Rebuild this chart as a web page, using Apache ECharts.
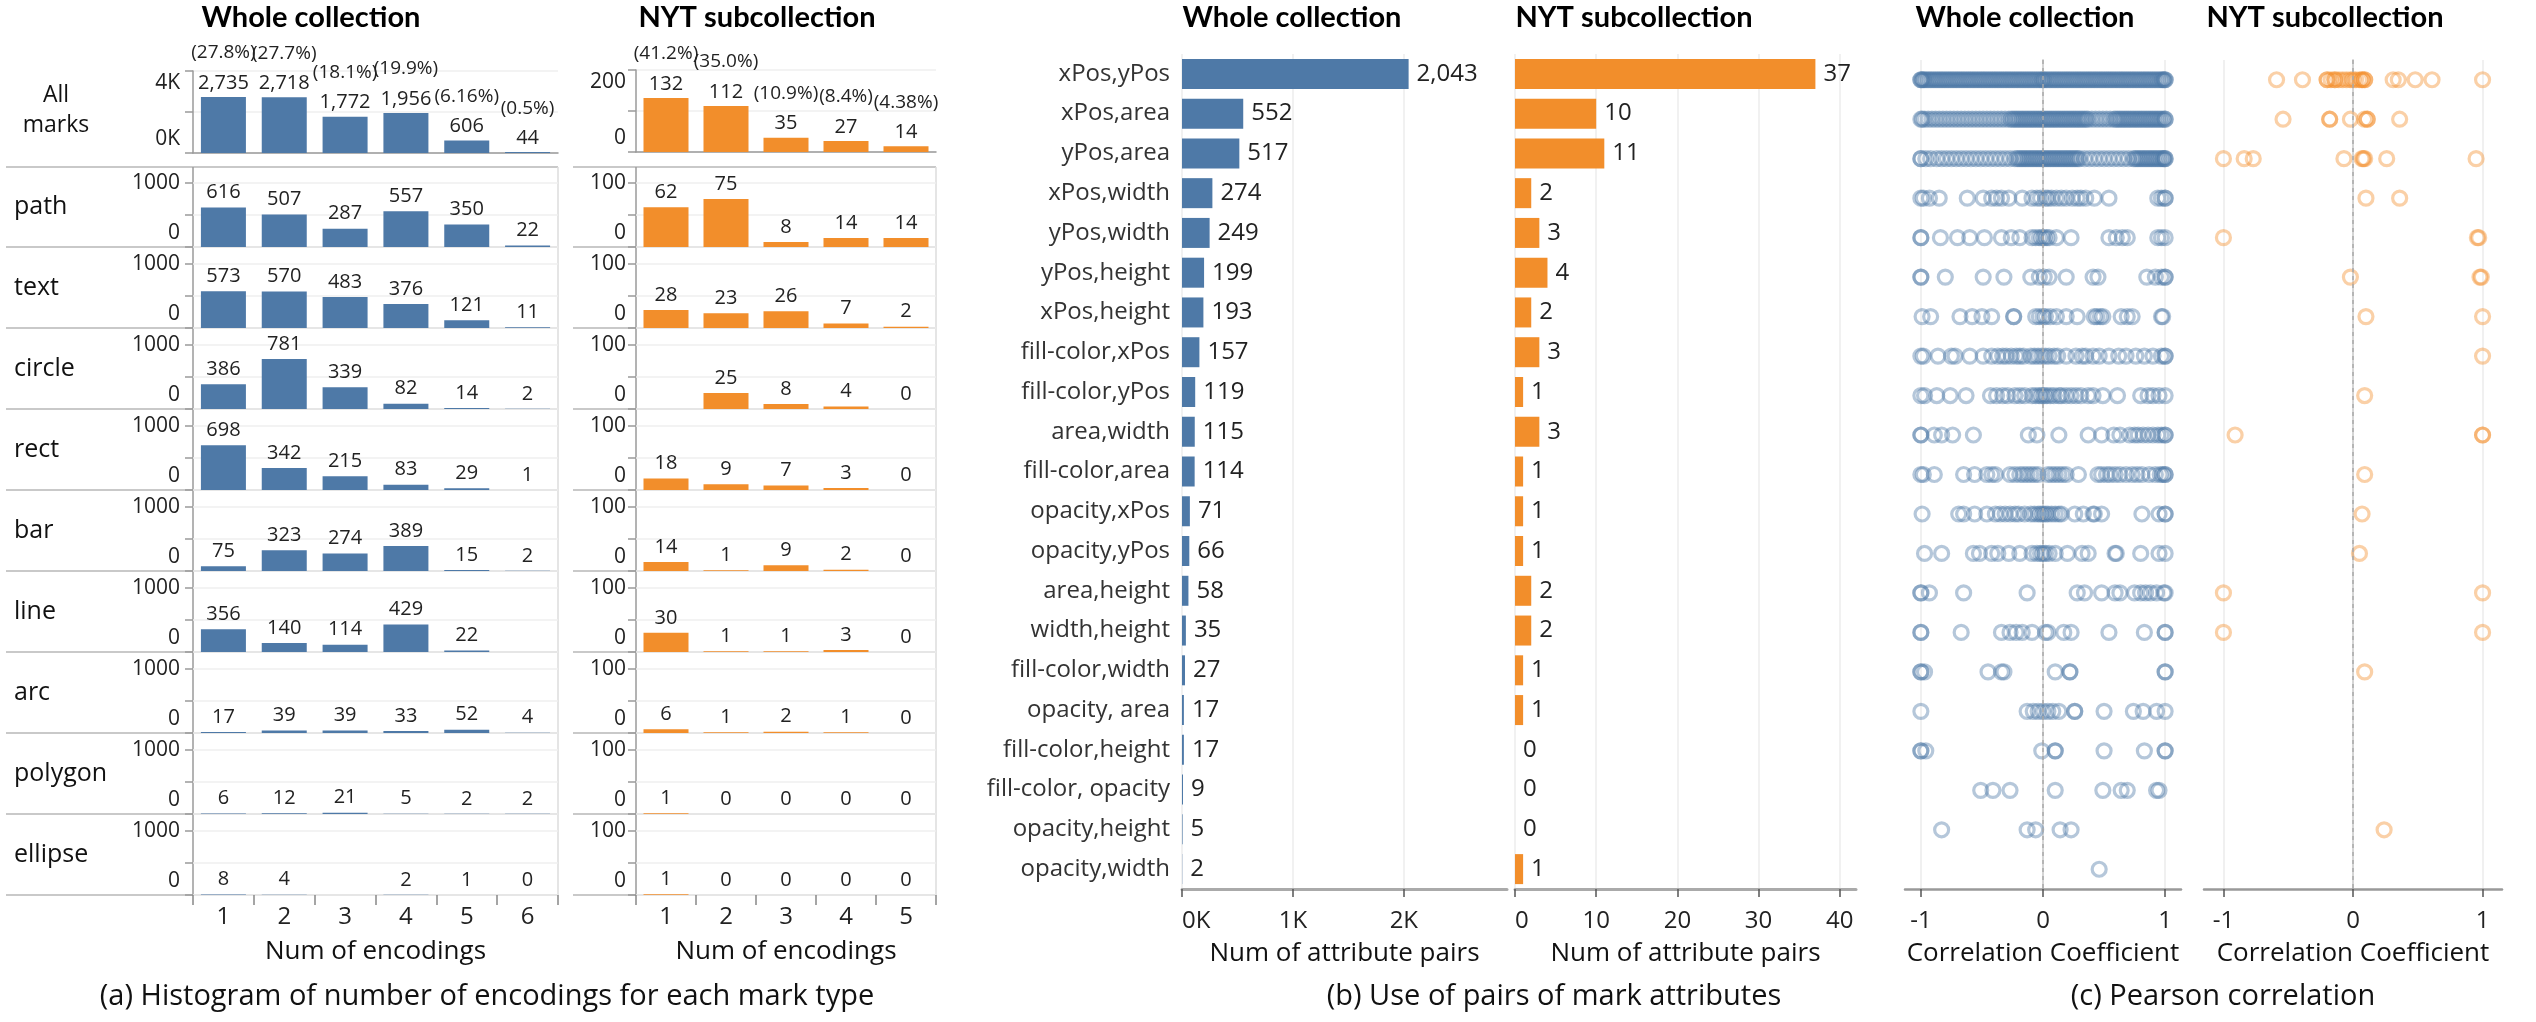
<!DOCTYPE html>
<html>
<head>
<meta charset="utf-8">
<title>Mark encodings</title>
<script src="https://cdn.jsdelivr.net/npm/echarts@6/dist/echarts.min.js"></script>
<style>
html, body { margin: 0; padding: 0; background: #fff; }
#chart { width: 2536px; height: 1022px; }
</style>
</head>
<body>
<div id="chart"></div>
<script>
// ---- data ----
const markTypes = ['path', 'text', 'circle', 'rect', 'bar', 'line', 'arc', 'polygon', 'ellipse'];
const encWhole = ['1', '2', '3', '4', '5', '6'];
const encNyt = ['1', '2', '3', '4', '5'];

const allWhole = [2735, 2718, 1772, 1956, 606, 44];
const allWholePct = ['27.8%', '27.7%', '18.1%', '19.9%', '6.16%', '0.5%'];
const allNyt = [132, 112, 35, 27, 14];
const allNytPct = ['41.2%', '35.0%', '10.9%', '8.4%', '4.38%'];

const wholePath = [616, 507, 287, 557, 350, 22];
const wholeText = [573, 570, 483, 376, 121, 11];
const wholeCircle = [386, 781, 339, 82, 14, 2];
const wholeRect = [698, 342, 215, 83, 29, 1];
const wholeBar = [75, 323, 274, 389, 15, 2];
const wholeLine = [356, 140, 114, 429, 22, null];
const wholeArc = [17, 39, 39, 33, 52, 4];
const wholePolygon = [6, 12, 21, 5, 2, 2];
const wholeEllipse = [8, 4, null, 2, 1, 0];

const nytPath = [62, 75, 8, 14, 14];
const nytText = [28, 23, 26, 7, 2];
const nytCircle = [null, 25, 8, 4, 0];
const nytRect = [18, 9, 7, 3, 0];
const nytBar = [14, 1, 9, 2, 0];
const nytLine = [30, 1, 1, 3, 0];
const nytArc = [6, 1, 2, 1, 0];
const nytPolygon = [1, 0, 0, 0, 0];
const nytEllipse = [1, 0, 0, 0, 0];

const pairs = ['xPos,yPos', 'xPos,area', 'yPos,area', 'xPos,width', 'yPos,width', 'yPos,height',
  'xPos,height', 'fill-color,xPos', 'fill-color,yPos', 'area,width', 'fill-color,area', 'opacity,xPos',
  'opacity,yPos', 'area,height', 'width,height', 'fill-color,width', 'opacity, area', 'fill-color,height',
  'fill-color, opacity', 'opacity,height', 'opacity,width'];
const pairWhole = [2043, 552, 517, 274, 249, 199, 193, 157, 119, 115, 114, 71, 66, 58, 35, 27, 17, 17, 9, 5, 2];
const pairNyt = [37, 10, 11, 2, 3, 4, 2, 3, 1, 3, 1, 1, 1, 2, 2, 1, 1, 0, 0, 0, 1];

// correlation coefficients, one list per attribute pair (top rows are dense bands)
const corrWhole = [
  [-1, -1, -0.99, -0.98, -0.97, -0.955, -0.94, -0.925, -0.91, -0.895, -0.88, -0.865, -0.85, -0.835, -0.82, -0.805, -0.79, -0.775, -0.76, -0.745, -0.73, -0.715, -0.7, -0.685, -0.67, -0.655, -0.64, -0.625, -0.61, -0.595, -0.58, -0.565, -0.55, -0.535, -0.52, -0.505, -0.49, -0.475, -0.46, -0.445, -0.43, -0.415, -0.4, -0.385, -0.37, -0.355, -0.34, -0.325, -0.31, -0.295, -0.28, -0.265, -0.25, -0.235, -0.22, -0.205, -0.19, -0.175, -0.16, -0.145, -0.13, -0.115, -0.1, -0.085, -0.07, -0.055, -0.04, -0.025, -0.01, 0, 0.01, 0.025, 0.04, 0.055, 0.07, 0.085, 0.1, 0.115, 0.13, 0.145, 0.16, 0.175, 0.19, 0.205, 0.22, 0.235, 0.25, 0.265, 0.28, 0.295, 0.31, 0.325, 0.34, 0.355, 0.37, 0.385, 0.4, 0.415, 0.43, 0.445, 0.46, 0.475, 0.49, 0.505, 0.52, 0.535, 0.55, 0.565, 0.58, 0.595, 0.61, 0.625, 0.64, 0.655, 0.67, 0.685, 0.7, 0.715, 0.73, 0.745, 0.76, 0.775, 0.79, 0.805, 0.82, 0.835, 0.85, 0.865, 0.88, 0.895, 0.91, 0.925, 0.94, 0.955, 0.97, 0.98, 0.99, 1, 1],
  [-1, -0.99, -0.97, -0.94, -0.91, -0.88, -0.85, -0.82, -0.79, -0.76, -0.73, -0.7, -0.67, -0.64, -0.61, -0.58, -0.55, -0.52, -0.49, -0.46, -0.43, -0.4, -0.37, -0.34, -0.31, -0.28, -0.26, -0.245, -0.23, -0.215, -0.2, -0.185, -0.17, -0.155, -0.14, -0.125, -0.11, -0.095, -0.08, -0.065, -0.05, -0.035, -0.02, -0.005, 0.01, 0.025, 0.04, 0.055, 0.07, 0.085, 0.1, 0.115, 0.13, 0.145, 0.16, 0.175, 0.19, 0.205, 0.22, 0.235, 0.25, 0.265, 0.28, 0.295, 0.31, 0.325, 0.34, 0.355, 0.37, 0.4, 0.43, 0.46, 0.49, 0.52, 0.55, 0.58, 0.595, 0.61, 0.625, 0.64, 0.655, 0.67, 0.685, 0.7, 0.715, 0.73, 0.745, 0.76, 0.775, 0.79, 0.805, 0.82, 0.835, 0.85, 0.865, 0.88, 0.895, 0.91, 0.925, 0.94, 0.955, 0.97, 0.985, 1, 1],
  [-1, -1, -0.96, -0.92, -0.87, -0.83, -0.79, -0.75, -0.71, -0.67, -0.63, -0.59, -0.55, -0.51, -0.47, -0.43, -0.39, -0.35, -0.31, -0.27, -0.23, -0.21, -0.195, -0.18, -0.165, -0.15, -0.135, -0.12, -0.105, -0.09, -0.075, -0.06, -0.045, -0.03, -0.015, 0, 0.015, 0.03, 0.045, 0.06, 0.075, 0.09, 0.105, 0.12, 0.135, 0.15, 0.165, 0.18, 0.195, 0.21, 0.225, 0.24, 0.255, 0.27, 0.285, 0.3, 0.34, 0.38, 0.42, 0.46, 0.5, 0.54, 0.58, 0.62, 0.66, 0.7, 0.74, 0.755, 0.77, 0.785, 0.8, 0.815, 0.83, 0.845, 0.86, 0.875, 0.89, 0.905, 0.92, 0.935, 0.95, 0.965, 0.98, 0.99, 1, 1],
  [-1, -0.98, -0.93, -0.85, -0.62, -0.49, -0.42, -0.38, -0.34, -0.28, -0.17, -0.09, -0.05, -0.02, 0.02, 0.04, 0.07, 0.11, 0.15, 0.19, 0.24, 0.28, 0.31, 0.35, 0.42, 0.54, 0.94, 0.97, 1, 1],
  [-1, -1, -0.84, -0.7, -0.6, -0.48, -0.34, -0.26, -0.19, -0.09, -0.06, -0.03, -0.01, 0.01, 0.03, 0.05, 0.11, 0.23, 0.54, 0.6, 0.65, 0.69, 0.94, 0.97, 1],
  [-1, -1, -0.8, -0.49, -0.32, -0.1, -0.03, 0.01, 0.05, 0.19, 0.41, 0.45, 0.85, 0.92, 0.97, 1, 1],
  [-0.99, -0.92, -0.68, -0.58, -0.5, -0.42, -0.24, -0.24, -0.06, -0.03, 0, 0.02, 0.06, 0.11, 0.19, 0.28, 0.42, 0.44, 0.47, 0.49, 0.64, 0.69, 0.73, 0.97, 0.98],
  [-1, -0.98, -0.86, -0.75, -0.72, -0.6, -0.49, -0.42, -0.37, -0.33, -0.3, -0.26, -0.22, -0.19, -0.16, -0.1, -0.07, -0.04, -0.01, 0.02, 0.05, 0.09, 0.12, 0.19, 0.27, 0.32, 0.35, 0.41, 0.46, 0.54, 0.62, 0.68, 0.76, 0.83, 0.9, 0.97, 1, 1],
  [-1, -0.97, -0.87, -0.76, -0.63, -0.43, -0.38, -0.33, -0.29, -0.23, -0.19, -0.15, -0.09, -0.06, -0.03, -0.01, 0.01, 0.03, 0.06, 0.09, 0.13, 0.15, 0.19, 0.23, 0.27, 0.31, 0.37, 0.41, 0.49, 0.61, 0.8, 0.86, 0.9, 0.95, 1],
  [-1, -1, -0.89, -0.83, -0.74, -0.57, -0.12, -0.05, 0.13, 0.37, 0.48, 0.58, 0.63, 0.71, 0.75, 0.78, 0.82, 0.86, 0.9, 0.94, 0.97, 1, 1],
  [-1, -0.98, -0.89, -0.65, -0.56, -0.46, -0.42, -0.39, -0.27, -0.23, -0.19, -0.16, -0.13, -0.1, -0.07, -0.04, 0.04, 0.07, 0.1, 0.13, 0.16, 0.19, 0.29, 0.45, 0.48, 0.52, 0.55, 0.59, 0.63, 0.68, 0.73, 0.77, 0.81, 0.87, 0.92, 0.96, 0.98, 1, 1],
  [-0.99, -0.69, -0.65, -0.56, -0.46, -0.39, -0.35, -0.31, -0.27, -0.23, -0.2, -0.15, -0.1, -0.07, -0.04, -0.02, 0, 0.02, 0.04, 0.07, 0.1, 0.13, 0.15, 0.26, 0.33, 0.41, 0.42, 0.48, 0.81, 0.95, 1, 1],
  [-0.97, -0.83, -0.57, -0.52, -0.42, -0.37, -0.28, -0.19, -0.09, -0.05, -0.02, 0, 0.02, 0.05, 0.1, 0.2, 0.32, 0.37, 0.59, 0.6, 0.8, 0.95, 1],
  [-1, -1, -0.93, -0.65, -0.13, 0.28, 0.34, 0.48, 0.59, 0.63, 0.75, 0.8, 0.84, 0.88, 0.93, 0.99, 1],
  [-1, -1, -0.67, -0.34, -0.27, -0.22, -0.17, -0.09, 0.02, 0.04, 0.17, 0.23, 0.54, 0.83, 1, 1],
  [-1, -1, -0.97, -0.45, -0.34, -0.32, 0.1, 0.22, 0.22, 1, 1],
  [-1, -0.13, -0.08, -0.04, 0, 0.04, 0.08, 0.13, 0.26, 0.26, 0.5, 0.74, 0.82, 0.93, 1],
  [-1, -1, -0.96, -0.01, 0.1, 0.1, 0.5, 0.83, 1, 1],
  [-0.51, -0.41, -0.27, 0.1, 0.49, 0.64, 0.69, 0.93, 0.95],
  [-0.83, -0.13, -0.06, 0.14, 0.23],
  [0.46]
];
const corrNyt = [
  [-0.59, -0.39, -0.2, -0.2, -0.17, -0.14, -0.14, -0.11, -0.08, -0.05, -0.02, 0, 0.02, 0.05, 0.07, 0.07, 0.09, 0.09, 0.31, 0.35, 0.48, 0.61, 1],
  [-0.54, -0.18, -0.18, -0.02, 0.09, 0.11, 0.11, 0.36],
  [-1, -0.84, -0.77, -0.07, 0.07, 0.08, 0.09, 0.26, 0.95],
  [0.1, 0.36],
  [-1, 0.96, 0.97],
  [-0.02, 0.98, 0.99],
  [0.1, 1],
  [1],
  [0.09],
  [-0.91, 1, 1],
  [0.09],
  [0.07],
  [0.05],
  [-1, 1],
  [-1, 1],
  [0.09],
  [],
  [],
  [],
  [0.24],
  []
];

// ---- chart ----
const BLUE = '#4e79a7';
const ORANGE = '#f28e2b';
const FONT = '"Open Sans"';
const TITLE_FONT = 'Lato';
const TXT = '#222';

const chart = echarts.init(document.getElementById('chart'));
const grid = [], xAxis = [], yAxis = [], series = [], graphic = [];

function addGrid(g, x, y) {
  grid.push(g);
  const i = grid.length - 1;
  x.gridIndex = i;
  y.gridIndex = i;
  xAxis.push(x);
  yAxis.push(y);
  return i;
}

function line(x1, y1, x2, y2, color, w) {
  graphic.push({ type: 'line', silent: true, shape: { x1, y1, x2, y2 }, style: { stroke: color, lineWidth: w } });
}

function text(str, x, y, size, opts) {
  graphic.push({
    type: 'text', silent: true, x, y,
    style: Object.assign({
      text: str, fill: '#111', font: size + 'px ' + FONT,
      align: 'center', verticalAlign: 'middle', textAlign: 'center', textVerticalAlign: 'middle'
    }, opts || {})
  });
}

const nameStyle = { fontSize: 26, color: '#111', fontFamily: FONT };

// ---- (a) histograms ----
const ROW_TOP = 167, ROW_H = 81, BAR_H = 64;

function valueAxis(max, fmt, margin, isAll) {
  return {
    type: 'value', min: 0, max: max, interval: max / 2,
    axisLine: { show: isAll, lineStyle: { color: '#9a9a9a', width: 1.5 } },
    axisTick: { show: true, length: 8, lineStyle: { color: '#9a9a9a', width: 1.5 } },
    splitLine: { show: true, lineStyle: { color: '#efefef', width: 1.5 } },
    axisLabel: {
      margin: margin, fontSize: 21, color: TXT, fontFamily: FONT,
      formatter: v => v === max ? (isAll ? '{t|' + fmt(v) + '}' : fmt(v)) : (v === 0 ? '{b|' + fmt(0) + '}' : ''),
      rich: {
        t: { fontSize: 21, color: TXT, fontFamily: FONT, padding: [24, 0, 0, 0] },
        b: { fontSize: 21, color: TXT, fontFamily: FONT, padding: [0, 0, 28, 0] }
      }
    }
  };
}

function histPanel(p) {
  const width = p.rightX - p.axisX;
  const gi = addGrid({ left: p.axisX, top: p.allTop, width: width, height: 82 },
    { type: 'category', data: p.cats, axisLine: { show: true, lineStyle: { color: '#9a9a9a', width: 1.5 } },
      axisTick: { show: false }, axisLabel: { show: false } },
    valueAxis(p.allMax, p.allFmt, p.labelMargin, true));
  series.push({
    type: 'bar', xAxisIndex: gi, yAxisIndex: gi, data: p.all, barWidth: 45,
    itemStyle: { color: p.color },
    label: {
      show: true, position: 'top', distance: 3,
      formatter: d => '{p|(' + p.pct[d.dataIndex] + ')}\n{v|' + d.value.toLocaleString('en-US') + '}',
      rich: {
        p: { fontSize: 19, color: TXT, fontFamily: FONT, lineHeight: 38 },
        v: { fontSize: 20, color: TXT, fontFamily: FONT, lineHeight: 22 }
      }
    }
  });

  line(p.sepLeft, ROW_TOP, p.rightX, ROW_TOP, '#c9c9c9', 2);
  p.rows.forEach((vals, i) => {
    const base = ROW_TOP + 80 + ROW_H * i;
    const last = i === p.rows.length - 1;
    const g = addGrid({ left: p.axisX, top: base - BAR_H, width: width, height: BAR_H },
      {
        type: 'category', data: p.cats,
        axisLine: { show: false },
        axisTick: { show: last, length: 10, lineStyle: { color: '#888', width: 1.5 } },
        axisLabel: { show: last, fontSize: 24, color: TXT, margin: 10, fontFamily: FONT },
        name: last ? 'Num of encodings' : '', nameLocation: 'middle', nameGap: 44,
        nameTextStyle: nameStyle
      },
      valueAxis(p.rowMax, v => String(v), p.labelMargin, false));
    series.push({
      type: 'bar', xAxisIndex: g, yAxisIndex: g, data: vals, barWidth: 45,
      itemStyle: { color: p.color },
      label: { show: true, position: 'top', distance: 5, fontSize: 20, color: TXT, fontFamily: FONT }
    });
    line(p.sepLeft, base, p.rightX, base, '#c9c9c9', 2);
  });
  const bottom = ROW_TOP + 80 + ROW_H * (p.rows.length - 1);
  line(p.axisX, ROW_TOP, p.axisX, bottom, '#9a9a9a', 1.5);
  line(p.rightX, ROW_TOP, p.rightX, bottom, '#dcdcdc', 1.5);
}

histPanel({
  axisX: 193, rightX: 558, sepLeft: 6, allTop: 71, allMax: 4000, allFmt: v => (v / 1000) + 'K',
  cats: encWhole, all: allWhole, pct: allWholePct, rowMax: 1000, labelMargin: 13, color: BLUE,
  rows: [wholePath, wholeText, wholeCircle, wholeRect, wholeBar, wholeLine, wholeArc, wholePolygon, wholeEllipse]
});
histPanel({
  axisX: 636, rightX: 936, sepLeft: 573, allTop: 70, allMax: 200, allFmt: v => String(v),
  cats: encNyt, all: allNyt, pct: allNytPct, rowMax: 100, labelMargin: 10, color: ORANGE,
  rows: [nytPath, nytText, nytCircle, nytRect, nytBar, nytLine, nytArc, nytPolygon, nytEllipse]
});

text('All\nmarks', 56, 110, 23, { lineHeight: 30 });
markTypes.forEach((m, i) => {
  text(m, 14, ROW_TOP + 40 + ROW_H * i, 25, { align: 'left', textAlign: 'left' });
});

// ---- (b) attribute pairs ----
function pairPanel(p) {
  const gi = addGrid({ left: p.left, top: 54, width: p.width, height: 835 },
    {
      type: 'value', min: 0, max: p.max, interval: p.step,
      axisLine: { show: true, lineStyle: { color: '#aaaaaa', width: 3 } },
      axisTick: { show: true, length: 8, customValues: p.ticks, lineStyle: { color: '#555', width: 1.5 } },
      axisLabel: { customValues: p.ticks, formatter: p.fmt, fontSize: 24, color: TXT, margin: 20,
        alignMinLabel: 'left', fontFamily: FONT },
      splitLine: { show: true, lineStyle: { color: '#ececec', width: 1.5 } },
      name: 'Num of attribute pairs', nameLocation: 'middle', nameGap: 52, nameTextStyle: nameStyle
    },
    {
      type: 'category', data: pairs, inverse: true,
      axisLine: { show: false }, axisTick: { show: false },
      axisLabel: { show: p.showCats, fontSize: 24, color: '#333', margin: 12, fontFamily: FONT }
    });
  series.push({
    type: 'bar', xAxisIndex: gi, yAxisIndex: gi, data: p.values, barWidth: 30,
    itemStyle: { color: p.color },
    label: { show: true, position: 'right', distance: 8, fontSize: 24, color: TXT, fontFamily: FONT,
      formatter: d => d.value.toLocaleString('en-US') }
  });
}

pairPanel({ left: 1182, width: 325, max: 2930, step: 1000, ticks: [0, 1000, 2000],
  fmt: v => (v / 1000) + 'K', values: pairWhole, color: BLUE, showCats: true });
pairPanel({ left: 1515, width: 341, max: 42, step: 10, ticks: [0, 10, 20, 30, 40],
  fmt: v => String(v), values: pairNyt, color: ORANGE, showCats: false });

// ---- (c) Pearson correlation ----
function corrPanel(p) {
  const gi = addGrid({ left: p.left, top: 60, width: p.width, height: 829 },
    {
      type: 'value', min: -p.ext, max: p.ext,
      axisLine: { show: true, lineStyle: { color: '#999', width: 2.5 } },
      axisTick: { show: true, length: 8, customValues: [-1, 0, 1], lineStyle: { color: '#555', width: 1.5 } },
      axisLabel: { customValues: [-1, 0, 1], formatter: v => String(v), fontSize: 24, color: TXT, margin: 20,
        fontFamily: FONT },
      splitLine: { show: true, lineStyle: { color: '#f0f0f0', width: 2 } },
      name: 'Correlation Coefficient', nameLocation: 'middle', nameGap: 52, nameTextStyle: nameStyle
    },
    {
      type: 'category', data: pairs, inverse: true,
      axisLine: { show: true, lineStyle: { color: '#d5d5d5', width: 2 } },
      axisTick: { show: false }, axisLabel: { show: false }, splitLine: { show: false }
    });
  const data = [];
  p.rows.forEach((vals, r) => vals.forEach(v => data.push([v, r])));
  series.push({
    type: 'scatter', xAxisIndex: gi, yAxisIndex: gi, data: data,
    symbol: 'circle', symbolSize: 14,
    itemStyle: { color: 'rgba(0,0,0,0)', borderColor: p.ring, borderWidth: 3.2 },
    markLine: {
      silent: true, symbol: 'none', label: { show: false },
      lineStyle: { color: '#aaa', type: [4, 4], width: 1.5 },
      data: [{ xAxis: 0 }]
    }
  });
}

corrPanel({ left: 1905, width: 276, ext: 1.13, rows: corrWhole, ring: 'rgba(78,121,167,0.52)' });
corrPanel({ left: 2204, width: 298, ext: 1.15, rows: corrNyt, ring: 'rgba(242,142,43,0.52)' });

// ---- titles and captions ----
const bold = { font: 'bold 29px ' + TITLE_FONT, fill: '#000' };
text('Whole collection', 311, 18, 29, bold);
text('NYT subcollection', 757, 18, 29, bold);
text('Whole collection', 1292, 18, 29, bold);
text('NYT subcollection', 1634, 18, 29, bold);
text('Whole collection', 2025, 18, 29, bold);
text('NYT subcollection', 2325, 18, 29, bold);
text('(a) Histogram of number of encodings for each mark type', 487, 997, 29);
text('(b) Use of pairs of mark attributes', 1554, 997, 29);
text('(c) Pearson correlation', 2223, 997, 29);

chart.setOption({
  animation: false,
  textStyle: { fontFamily: FONT },
  grid: grid, xAxis: xAxis, yAxis: yAxis, series: series, graphic: graphic
});
</script>
</body>
</html>
